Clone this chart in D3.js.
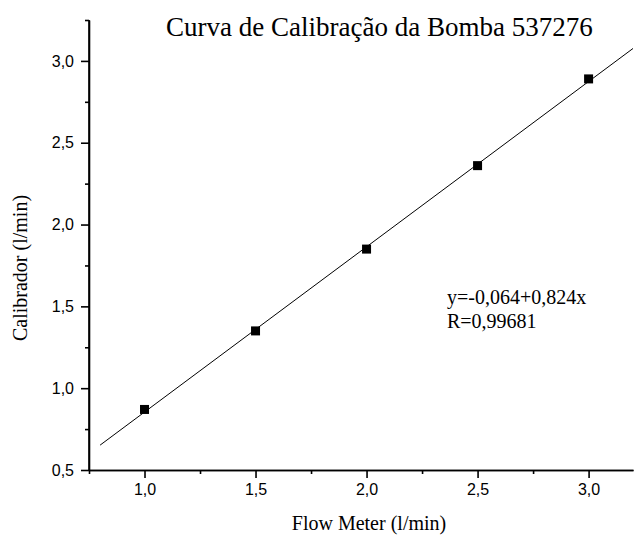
<!DOCTYPE html>
<html>
<head>
<meta charset="utf-8">
<script src="https://cdn.jsdelivr.net/npm/d3@7"></script>
<style>
  html, body { margin: 0; padding: 0; background: #fff; }
  svg { display: block; }
</style>
</head>
<body>
<svg id="chart" width="634" height="535"></svg>
<script>
// Calibration readings
const flowMeter = [1.0, 1.5, 2.0, 2.5, 3.0];
const calibrador = [0.87, 1.35, 1.85, 2.36, 2.89];
const fitRange = [0.8, 3.2];

const xMajor = [1.0, 1.5, 2.0, 2.5, 3.0];
const xMinor = [0.75, 1.25, 1.75, 2.25, 2.75];
const yMajor = [0.5, 1.0, 1.5, 2.0, 2.5, 3.0];
const yMinor = [0.75, 1.25, 1.75, 2.25, 2.75, 3.25];

const titleText = "Curva de Calibração da Bomba 537276";
const xLabel = "Flow Meter (l/min)";
const yLabel = "Calibrador (l/min)";
const eqLines = ["y=-0,064+0,824x", "R=0,99681"];

const svg = d3.select("#chart");
const serif = "'Liberation Serif', 'Times New Roman', serif";
const sans = "'Liberation Sans', Arial, sans-serif";

const x = d3.scaleLinear().domain([0.75, 3.2]).range([89, 633]);
const y = d3.scaleLinear().domain([0.5, 3.25]).range([470, 20]);

const fmt = d => d3.format(".1f")(d).replace(".", ",");

// least-squares line through the readings
const mx = d3.mean(flowMeter), my = d3.mean(calibrador);
const sxy = d3.sum(flowMeter, (v, i) => (v - mx) * (calibrador[i] - my));
const sxx = d3.sum(flowMeter, v => (v - mx) ** 2);
const slope = sxy / sxx, intercept = my - slope * mx;

// axes
const xAxis = svg.append("g").attr("transform", "translate(0,470)")
  .call(d3.axisBottom(x).tickValues(xMajor).tickFormat(fmt).tickSize(8).tickPadding(6).tickSizeOuter(0));
const xAxisMinor = svg.append("g").attr("transform", "translate(0,470)")
  .call(d3.axisBottom(x).tickValues(xMinor).tickFormat("").tickSize(4).tickSizeOuter(0));
const yAxis = svg.append("g").attr("transform", "translate(89,0)")
  .call(d3.axisLeft(y).tickValues(yMajor).tickFormat(fmt).tickSize(8).tickPadding(7).tickSizeOuter(0));
const yAxisMinor = svg.append("g").attr("transform", "translate(89,0)")
  .call(d3.axisLeft(y).tickValues(yMinor).tickFormat("").tickSize(4).tickSizeOuter(0));

[xAxis, xAxisMinor, yAxis, yAxisMinor].forEach(g => {
  g.select(".domain").attr("stroke", "#000").attr("stroke-width", 1.6);
  g.selectAll(".tick line").attr("stroke", "#000").attr("stroke-width", 1.6);
  g.selectAll(".tick text").attr("fill", "#000").style("font-family", sans).style("font-size", "16px");
});
yAxisMinor.select(".domain").attr("d", `M0,${y(0.5)}V${y(3.25)}`);

// fitted line
const line = d3.line().x(d => x(d)).y(d => y(intercept + slope * d));
svg.append("path").datum(fitRange)
  .attr("d", line).attr("fill", "none").attr("stroke", "#000").attr("stroke-width", 1);

// readings
const size = 9;
svg.selectAll("rect.pt").data(flowMeter).join("rect")
  .attr("class", "pt")
  .attr("x", d => x(d) - size / 2)
  .attr("y", (d, i) => y(calibrador[i]) - size / 2)
  .attr("width", size).attr("height", size).attr("fill", "#000");

// title
svg.append("text").attr("x", 166).attr("y", 36)
  .style("font-family", serif).style("font-size", "27px").attr("fill", "#000")
  .text(titleText);

// axis titles
svg.append("text").attr("x", 369).attr("y", 530).attr("text-anchor", "middle")
  .style("font-family", serif).style("font-size", "20px").attr("fill", "#000")
  .text(xLabel);
svg.append("text").attr("transform", "translate(27,268) rotate(-90)").attr("text-anchor", "middle")
  .style("font-family", serif).style("font-size", "20px").attr("fill", "#000")
  .text(yLabel);

// regression annotation
svg.selectAll("text.eq").data(eqLines).join("text")
  .attr("class", "eq")
  .attr("x", 447).attr("y", (d, i) => 304 + i * 24)
  .style("font-family", serif).style("font-size", "20px").attr("fill", "#000")
  .text(d => d);
</script>
</body>
</html>
